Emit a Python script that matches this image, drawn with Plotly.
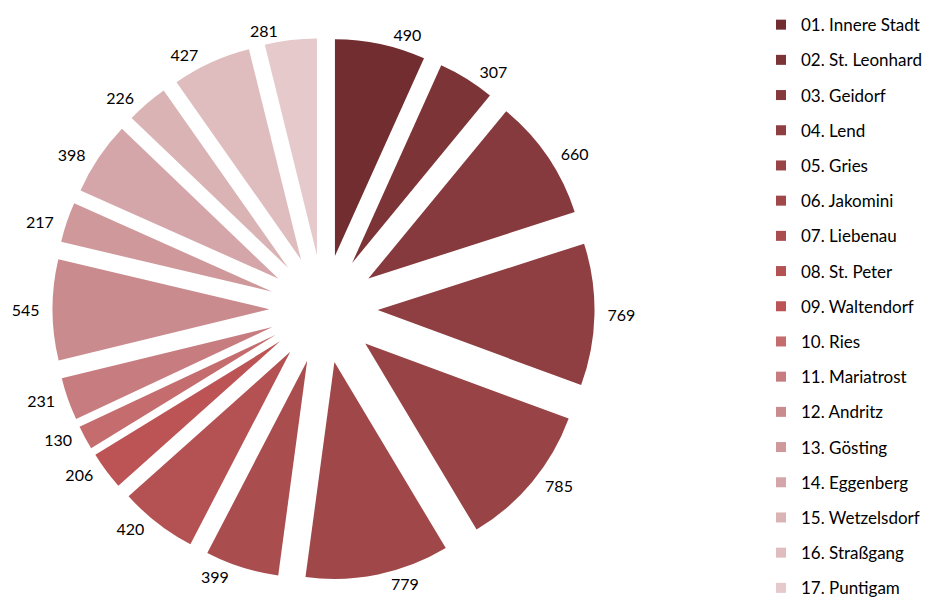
import plotly.graph_objects as go

labels = ["01. Innere Stadt", "02. St. Leonhard", "03. Geidorf", "04. Lend", "05. Gries",
          "06. Jakomini", "07. Liebenau", "08. St. Peter", "09. Waltendorf", "10. Ries",
          "11. Mariatrost", "12. Andritz", "13. Gösting", "14. Eggenberg", "15. Wetzelsdorf",
          "16. Straßgang", "17. Puntigam"]
values = [490, 307, 660, 769, 785, 779, 399, 420, 206, 130, 231, 545, 217, 398, 226, 427, 281]
colors = ["#722D30", "#7D3437", "#873A3D", "#8F3E41", "#984446", "#A04849", "#AA4D4F",
          "#B35153", "#BC5456", "#C46C6E", "#C77D80", "#CA8B8E", "#CF989B", "#D5A6A9",
          "#DAB3B5", "#DFBDBF", "#E5C9CB"]

FONT = "Lato"
PAD = "\u00a0\u00a0"

fig = go.Figure()
fig.add_trace(go.Pie(
    labels=labels, values=values,
    marker=dict(colors=colors, line=dict(width=0)),
    sort=False, direction="clockwise", rotation=0,
    pull=0.25,
    texttemplate=PAD + "%{value}" + PAD, textposition="outside",
    textfont=dict(size=16, color="#000000", family=FONT),
    showlegend=False,
    domain=dict(x=[0.0371, 0.6371], y=[0, 1]),
    hoverinfo="label+value",
))
for lab, col in zip(labels, colors):
    fig.add_trace(go.Scatter(
        x=[None], y=[None], mode="markers",
        marker=dict(symbol="square", size=10, color=col),
        name=lab, legendgroup=lab, showlegend=True,
    ))

fig.update_layout(
    width=936, height=600,
    margin=dict(l=0, r=0, t=30, b=28, autoexpand=False),
    paper_bgcolor="white", plot_bgcolor="white",
    xaxis=dict(visible=False), yaxis=dict(visible=False),
    legend=dict(x=0.8045, y=1.057, xanchor="left", yanchor="top",
                tracegroupgap=10.1, font=dict(size=17, family=FONT, color="#000000"),
                bgcolor="rgba(0,0,0,0)", maxheight=660),
)
fig.write_html("out.html")
